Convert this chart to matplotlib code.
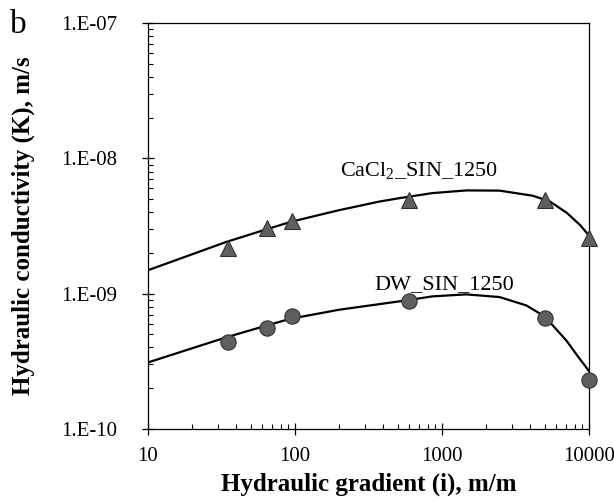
import matplotlib
matplotlib.use('Agg')
import matplotlib.pyplot as plt
import numpy as np
from matplotlib.ticker import FuncFormatter, LogLocator, NullFormatter

# Measured points
gradient = [35, 65, 95, 600, 5000, 10000]
k_cacl2 = [2.16e-9, 3.05e-9, 3.45e-9, 4.9e-9, 4.9e-9, 2.57e-9]
k_dw = [4.4e-10, 5.6e-10, 6.8e-10, 8.9e-10, 6.6e-10, 2.3e-10]

# Trend curves
fit_x_cacl2 = [10, 34, 64, 94, 199, 373, 512, 860, 1470, 2470, 4150, 5420,
               7080, 8690, 10000]
fit_k_cacl2 = [1.49e-9, 2.41e-9, 2.99e-9, 3.40e-9, 4.14e-9, 4.79e-9, 5.08e-9,
               5.54e-9, 5.80e-9, 5.78e-9, 5.30e-9, 4.81e-9, 3.96e-9, 3.23e-9,
               2.70e-9]
fit_x_dw = [10, 34, 64, 93, 199, 569, 864, 1462, 2466, 3760, 5010, 7050,
            8470, 10000]
fit_k_dw = [3.10e-10, 4.75e-10, 5.81e-10, 6.52e-10, 7.60e-10, 8.91e-10,
            9.55e-10, 9.88e-10, 9.44e-10, 8.18e-10, 6.78e-10, 4.49e-10,
            3.41e-10, 2.69e-10]

plt.rcParams['font.family'] = ['Liberation Serif', 'DejaVu Serif']
plt.rcParams['mathtext.fontset'] = 'custom'
plt.rcParams['mathtext.rm'] = 'Liberation Serif'


def main():
    fig = plt.figure(figsize=(6.14, 5.04), dpi=100)
    ax = fig.add_axes([0.241, 0.149, 0.718, 0.805])

    ax.plot(fit_x_cacl2, fit_k_cacl2, color='black', lw=1.6, zorder=2)
    ax.plot(fit_x_dw, fit_k_dw, color='black', lw=1.6, zorder=2)
    ax.plot(gradient, k_cacl2, ls='none', marker='^', ms=11.5,
            mfc='#5f5f5f', mec='#333333', mew=0.8, zorder=3, clip_on=False)
    ax.plot(gradient, k_dw, ls='none', marker='o', ms=11,
            mfc='#5f5f5f', mec='#333333', mew=0.8, zorder=3, clip_on=False)

    ax.set_xscale('log')
    ax.set_yscale('log')
    ax.set_xlim(10, 10000)
    ax.set_ylim(1e-10, 1e-7)

    ax.yaxis.set_major_formatter(
        FuncFormatter(lambda v, p: '1.E{:03d}'.format(int(round(np.log10(v))))))
    ax.xaxis.set_major_formatter(FuncFormatter(lambda v, p: '{:g}'.format(v)))
    ax.xaxis.set_minor_locator(LogLocator(base=10, subs=np.arange(2, 10)))
    ax.yaxis.set_minor_locator(LogLocator(base=10, subs=np.arange(2, 10)))
    ax.xaxis.set_minor_formatter(NullFormatter())
    ax.yaxis.set_minor_formatter(NullFormatter())

    ax.tick_params(which='major', direction='inout', length=8, width=0.9,
                   labelsize=15, top=False, right=False)
    ax.tick_params(which='minor', direction='in', length=3.6, width=0.8,
                   top=False, right=False)
    ax.tick_params(axis='y', which='major', pad=18)
    ax.tick_params(axis='x', which='major', pad=9)
    for sp in ax.spines.values():
        sp.set_linewidth(0.9)

    ax.set_xlabel('Hydraulic gradient (i), m/m', fontsize=18, fontweight='bold')
    ax.set_ylabel('Hydraulic conductivity (K), m/s', fontsize=18,
                  fontweight='bold')
    ax.xaxis.set_label_coords(0.5, -0.108)
    ax.yaxis.label.set(ha='center', va='center', rotation_mode='anchor')
    ax.yaxis.set_label_coords(-0.282, 0.5)

    ax.text(700, 7.38e-9, r'CaCl$_{\mathrm{2}}$_SIN_1250', fontsize=16,
            ha='center', va='baseline')
    ax.text(1040, 1.089e-9, 'DW_SIN_1250', fontsize=16, ha='center',
            va='baseline')

    fig.text(0.016, 0.9345, 'b', fontsize=24, ha='left', va='baseline')

    fig.savefig('out.png', dpi=100)
    plt.close(fig)


if __name__ == '__main__':
    main()
